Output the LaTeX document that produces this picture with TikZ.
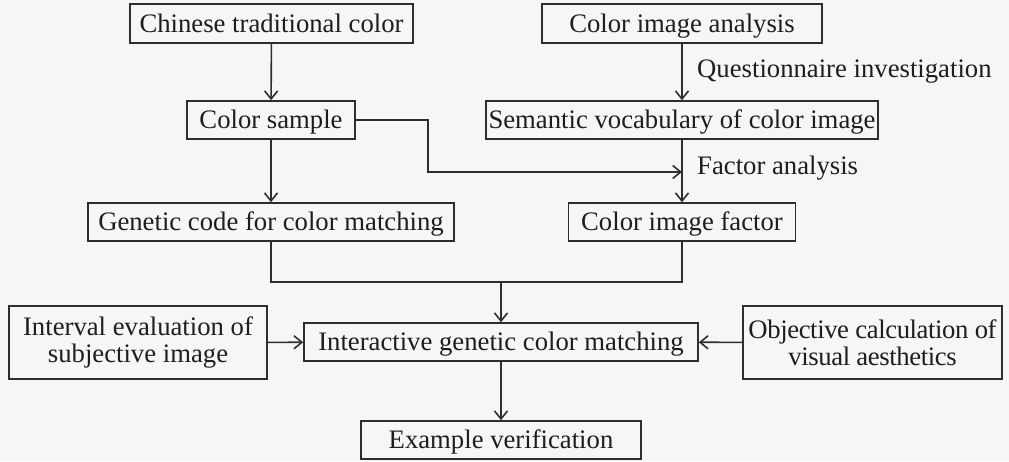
\documentclass[tikz,border=0pt]{standalone}
\usepackage{fontspec}
\setmainfont{Liberation Serif}
\usetikzlibrary{arrows.meta}
\definecolor{ink}{HTML}{1E1E1E}
\definecolor{wire}{HTML}{2E2E2E}
\definecolor{paper}{HTML}{F6F6F6}
\begin{document}
\begin{tikzpicture}[x=1pt,y=-1pt,
  every node/.style={font=\fontsize{26.7}{27.5}\selectfont, text=ink},
  box/.style={draw=wire, line width=1.6pt, inner sep=0pt, align=center},
  onerow/.style={box, text height=20pt, text depth=3pt, minimum height=38},
  tworow/.style={box, minimum height=73},
  tight/.style={font=\fontsize{26.7}{27.5}\selectfont\addfontfeature{LetterSpace=-1.5}},
  link/.style={draw=wire, line width=1.6pt, -{Straight Barb[length=8pt,width=13pt,line width=1.6pt]}},
  line/.style={draw=wire, line width=1.6pt},
  note/.style={anchor=west, inner sep=0pt}]
  % canvas
  \fill[paper] (0,0) rectangle (1009,461);
  \useasboundingbox (0,0) rectangle (1009,461);

  % boxes
  \node[onerow, minimum width=283, minimum height=39] (ctc) at (271.5,23.5) {Chinese traditional color};
  \node[onerow, minimum width=280, minimum height=39] (cia) at (682,23.5) {Color image analysis};
  \node[onerow, minimum width=168] (cs) at (271,120) {Color sample};
  \node[onerow, minimum width=392] (sv) at (682,120) {Semantic vocabulary of color image};
  \node[onerow, minimum width=366] (gc) at (271,222) {Genetic code for color matching};
  \node[onerow, minimum width=227] (cif) at (682,222) {Color image factor};
  \node[tworow, minimum width=258] (ie) at (138,342.5) {Interval evaluation of\\subjective image};
  \node[onerow, minimum width=394] (igc) at (501,342) {Interactive genetic color matching};
  \node[tworow, tight, minimum width=259] (ocv) at (872.5,342.5) {Objective calculation of\\visual aesthetics};
  \node[onerow, minimum width=280] (ev) at (501,440) {Example verification};

  % junction points
  \coordinate (fa) at (682,172);
  \coordinate (bend) at (428,172);
  \coordinate (merge) at (501,282);

  % connectors
  \draw[link] (ctc) -- (cs);
  \draw[link] (cia) -- (sv);
  \draw[link] (cs) -- (gc);
  \draw[link] (sv) -- (cif);
  \draw[link] (cs.east) -| (bend) -- (fa);
  \draw[line] (gc.south) |- (merge) -| (cif.south);
  \draw[link] (merge) -- (igc);
  \draw[link] (ie) -- (igc);
  \draw[link] (ocv) -- (igc);
  \draw[link] (igc) -- (ev);

  % edge labels
  \node[note] (qi) at (697,72) {Questionnaire investigation};
  \node[note] (fan) at (697,168) {Factor analysis};
\end{tikzpicture}
\end{document}
